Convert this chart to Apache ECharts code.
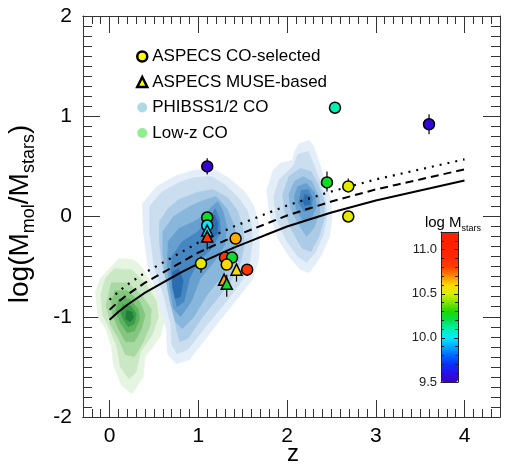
<!DOCTYPE html>
<html><head><meta charset="utf-8">
<script src="https://cdn.jsdelivr.net/npm/echarts@6/dist/echarts.min.js"></script>
<style>html,body{margin:0;padding:0;background:#fff}#c{width:508px;height:466px}</style>
</head><body><div id="c"></div>
<script>
const FONT = '"Liberation Sans", Arial, Helvetica, sans-serif';

// ---------- data ----------
// ASPECS CO-selected: [z, log(Mmol/Mstars), log Mstars]
const coSelected = [
  [1.10, 0.50, 9.52], [1.10, -0.01, 10.25], [1.10, -0.09, 10.0],
  [1.42, -0.22, 10.66], [1.03, -0.47, 10.53], [1.30, -0.41, 10.85],
  [1.38, -0.41, 10.25], [1.32, -0.48, 10.6], [1.55, -0.53, 10.85],
  [2.54, 1.085, 10.1], [3.60, 0.92, 9.55], [2.45, 0.34, 10.25],
  [2.69, 0.30, 10.53], [2.69, 0.00, 10.53]
];
// ASPECS MUSE-based: [z, log(Mmol/Mstars), log Mstars]
const museBased = [
  [1.10, -0.14, 10.0], [1.10, -0.20, 10.85], [1.43, -0.53, 10.6],
  [1.29, -0.63, 10.68], [1.32, -0.67, 10.25]
];
// vertical error bars: [z, low, high]
const errorBars = [
  [1.10, 0.42, 0.58], [1.10, -0.33, -0.05], [1.03, -0.56, -0.40],
  [1.32, -0.80, -0.58], [1.43, -0.65, -0.47], [2.45, 0.25, 0.45],
  [2.69, 0.26, 0.38], [3.60, 0.82, 1.02]
];
// scaling relations
const modelZ  = [0, 0.1, 0.2, 0.3, 0.4, 0.5, 0.6, 0.8, 1.0, 1.2, 1.4, 1.6, 1.8, 2.0, 2.25, 2.5, 2.75, 3.0, 3.25, 3.5, 3.75, 4.0];
const solidY  = [-1.03, -0.95, -0.88, -0.82, -0.76, -0.71, -0.66, -0.56, -0.47, -0.39, -0.31, -0.24, -0.17, -0.10, -0.03, 0.04, 0.10, 0.16, 0.21, 0.26, 0.31, 0.36];
const dashedY = [-0.93, -0.85, -0.78, -0.72, -0.66, -0.61, -0.56, -0.46, -0.36, -0.28, -0.20, -0.13, -0.06, 0.01, 0.08, 0.15, 0.21, 0.27, 0.32, 0.37, 0.42, 0.47];
const dottedY = [-0.83, -0.75, -0.68, -0.62, -0.56, -0.51, -0.46, -0.36, -0.26, -0.18, -0.10, -0.03, 0.04, 0.11, 0.18, 0.25, 0.31, 0.37, 0.42, 0.47, 0.52, 0.57];

// PHIBSS1/2 CO density contours: [level, polygon of [z, y]]
const phibssContours = [
  [0, [[0.37,0.13],[0.53,0.30],[0.75,0.41],[0.94,0.46],[1.16,0.48],[1.35,0.38],[1.52,0.25],[1.62,0.12],[1.68,-0.05],[1.69,-0.25],[1.68,-0.43],[1.61,-0.63],[1.43,-0.83],[1.16,-1.13],[0.90,-1.43],[0.75,-1.47],[0.65,-1.37],[0.64,-1.13],[0.53,-0.77],[0.43,-0.50],[0.38,-0.16]]],
  [0, [[2.14,0.73],[2.25,0.76],[2.30,0.70],[2.36,0.55],[2.43,0.36],[2.49,0.18],[2.51,0.00],[2.48,-0.20],[2.38,-0.40],[2.25,-0.56],[2.15,-0.53],[2.04,-0.42],[1.90,-0.23],[1.80,0.03],[1.77,0.26],[1.84,0.46],[1.92,0.53],[2.06,0.56],[2.09,0.66]]],
  [1, [[0.45,0.10],[0.58,0.24],[0.78,0.34],[0.95,0.39],[1.15,0.40],[1.31,0.31],[1.45,0.19],[1.55,0.06],[1.60,-0.08],[1.61,-0.27],[1.58,-0.45],[1.50,-0.63],[1.34,-0.82],[1.10,-1.08],[0.88,-1.33],[0.76,-1.37],[0.70,-1.28],[0.69,-1.08],[0.60,-0.76],[0.50,-0.50],[0.45,-0.16]]],
  [1, [[2.12,0.62],[2.24,0.65],[2.30,0.52],[2.37,0.36],[2.43,0.18],[2.45,0.00],[2.41,-0.18],[2.32,-0.36],[2.22,-0.46],[2.12,-0.40],[2.00,-0.25],[1.88,-0.03],[1.85,0.20],[1.91,0.37],[2.02,0.46],[2.08,0.52]]],
  [2, [[0.56,-0.05],[0.66,0.08],[0.78,0.17],[0.98,0.24],[1.16,0.27],[1.33,0.19],[1.44,0.06],[1.50,-0.10],[1.52,-0.28],[1.48,-0.45],[1.40,-0.60],[1.25,-0.78],[1.05,-1.00],[0.88,-1.22],[0.79,-1.25],[0.75,-1.12],[0.73,-0.95],[0.66,-0.72],[0.59,-0.48],[0.56,-0.25]]],
  [2, [[2.02,0.40],[2.15,0.48],[2.27,0.45],[2.35,0.32],[2.42,0.15],[2.42,-0.02],[2.36,-0.20],[2.27,-0.35],[2.17,-0.32],[2.06,-0.15],[1.97,0.05],[1.95,0.22]]],
  [3, [[0.60,-0.15],[0.72,0.00],[0.90,0.10],[1.05,0.16],[1.20,0.20],[1.32,0.08],[1.40,-0.08],[1.44,-0.25],[1.40,-0.42],[1.28,-0.58],[1.10,-0.78],[0.95,-1.00],[0.82,-1.12],[0.74,-1.05],[0.68,-0.85],[0.63,-0.60],[0.60,-0.38]]],
  [3, [[2.08,0.35],[2.18,0.40],[2.28,0.35],[2.36,0.20],[2.37,0.04],[2.30,-0.12],[2.22,-0.20],[2.13,-0.08],[2.04,0.08],[2.02,0.22]]],
  [4, [[0.66,-0.25],[0.78,-0.12],[0.95,-0.05],[1.08,0.02],[1.15,0.10],[1.22,0.15],[1.28,0.05],[1.32,-0.10],[1.30,-0.28],[1.18,-0.45],[1.02,-0.62],[0.92,-0.85],[0.80,-1.00],[0.72,-0.92],[0.68,-0.72],[0.65,-0.48]]],
  [4, [[2.12,0.30],[2.22,0.33],[2.31,0.24],[2.33,0.10],[2.27,-0.03],[2.18,-0.05],[2.10,0.08],[2.08,0.20]]],
  [5, [[0.70,-0.40],[0.82,-0.25],[0.98,-0.16],[1.10,-0.06],[1.19,0.08],[1.24,-0.02],[1.25,-0.16],[1.15,-0.32],[1.00,-0.45],[0.90,-0.62],[0.84,-0.85],[0.76,-0.90],[0.71,-0.72],[0.69,-0.55]]],
  [5, [[2.16,0.26],[2.24,0.27],[2.29,0.18],[2.27,0.08],[2.19,0.05],[2.13,0.14]]],
  [6, [[0.71,-0.55],[0.78,-0.52],[0.83,-0.64],[0.80,-0.80],[0.74,-0.82],[0.71,-0.70]]],
  [6, [[1.12,-0.10],[1.18,0.02],[1.22,-0.06],[1.21,-0.18],[1.14,-0.22]]],
  [6, [[2.20,0.22],[2.26,0.20],[2.26,0.12],[2.20,0.11],[2.18,0.16]]]
];
// Low-z CO density contours: [level, polygon of [z, y]]
const lowzContours = [
  [0, [[0.10,-0.42],[0.27,-0.43],[0.36,-0.50],[0.47,-0.66],[0.60,-0.83],[0.63,-1.00],[0.57,-1.20],[0.40,-1.40],[0.38,-1.60],[0.25,-1.77],[0.13,-1.68],[0.04,-1.47],[0.02,-1.30],[-0.04,-1.13],[-0.13,-1.00],[-0.16,-0.75],[-0.11,-0.62],[0.00,-0.52]]],
  [1, [[0.05,-0.52],[0.25,-0.53],[0.40,-0.66],[0.53,-0.85],[0.55,-1.00],[0.48,-1.18],[0.35,-1.35],[0.30,-1.55],[0.22,-1.62],[0.12,-1.50],[0.08,-1.30],[0.00,-1.12],[-0.08,-0.98],[-0.10,-0.78],[-0.05,-0.62]]],
  [2, [[0.02,-0.66],[0.20,-0.66],[0.36,-0.78],[0.47,-0.92],[0.46,-1.08],[0.38,-1.25],[0.28,-1.40],[0.18,-1.38],[0.10,-1.22],[0.01,-1.08],[-0.04,-0.88]]],
  [3, [[0.06,-0.74],[0.20,-0.74],[0.34,-0.85],[0.40,-0.98],[0.36,-1.12],[0.28,-1.25],[0.18,-1.25],[0.10,-1.12],[0.03,-0.98],[0.02,-0.85]]],
  [4, [[0.10,-0.82],[0.22,-0.82],[0.32,-0.92],[0.34,-1.02],[0.28,-1.14],[0.20,-1.16],[0.12,-1.06],[0.07,-0.95]]],
  [5, [[0.15,-0.88],[0.24,-0.89],[0.30,-0.97],[0.28,-1.07],[0.21,-1.10],[0.15,-1.02],[0.12,-0.94]]],
  [6, [[0.19,-0.94],[0.25,-0.95],[0.27,-1.01],[0.23,-1.05],[0.18,-1.02]]]
];
const blueShades  = ['#e4eef8','#cadef0','#abcbe6','#89b6db','#679fcf','#4787c1','#2b6db0'];
const greenShades = ['#e6f4e2','#cbe8c4','#a9d9a2','#84c67f','#5db35f','#3a9a48','#1f7f36'];
// colour scale for log Mstars 9.5 .. 11.2
const massColors = ['#3c00c8','#2a10e6','#0a30ff','#0066ff','#00a8ff','#00eaff','#00f0b0','#00e050','#20d800',
                    '#80e400','#d8f000','#ffd800','#ff8c00','#ff4000','#ff2a00','#ff2400','#ff2000','#ff2000'];
const xMajorTicks = [0, 1, 2, 3, 4];
const xMinorTicks = [];
for (let i = -2; i <= 43; i++) if (i % 10 !== 0) xMinorTicks.push(i / 10);

// ---------- chart ----------
function contourSeries(name, contours, shades) {
  return {
    type: 'custom', name: name, xAxisIndex: 0, yAxisIndex: 0, clip: true, silent: true, z: 1,
    data: contours.map((c, i) => [c[1][0][0], c[1][0][1], i]),
    renderItem: function (params, api) {
      const c = contours[params.dataIndex];
      return {
        type: 'polygon',
        shape: { points: c[1].map(p => api.coord(p)) },
        style: { fill: shades[c[0]], stroke: shades[c[0]], lineWidth: 0.5 }
      };
    }
  };
}
const ax = '#333';
function xAx(pos, ticks, len, labels) {
  return {
    type: 'value', gridIndex: 0, position: pos, min: -0.3, max: 4.4,
    axisLine: { show: true, onZero: false, lineStyle: { color: ax, width: 1 } },
    axisTick: { show: true, inside: true, length: len, customValues: ticks, lineStyle: { color: ax, width: 1 } },
    axisLabel: labels ? { show: true, customValues: ticks, fontSize: 21, color: '#000', fontFamily: FONT, margin: 9 } : { show: false },
    splitLine: { show: false }
  };
}
function yAx(pos, labels) {
  return {
    type: 'value', gridIndex: 0, position: pos, min: -2, max: 2, interval: 1,
    axisLine: { show: true, onZero: false, lineStyle: { color: ax, width: 1 } },
    axisTick: { show: true, inside: true, length: 17, lineStyle: { color: ax, width: 1 } },
    minorTick: { show: true, splitNumber: 10, length: 9, lineStyle: { color: ax, width: 1 } },
    axisLabel: labels ? { show: true, fontSize: 21, color: '#000', fontFamily: FONT, margin: 11 } : { show: false },
    splitLine: { show: false }, minorSplitLine: { show: false }
  };
}
function cbY(pos, labels) {
  return {
    type: 'value', gridIndex: 1, position: pos, min: 9.5, max: 11.2, interval: 0.5, z: 10,
    axisLine: { show: true, onZero: false, lineStyle: { color: '#222', width: 1 } },
    axisTick: { show: true, inside: true, length: 4, lineStyle: { color: '#222' } },
    minorTick: { show: true, splitNumber: 5, length: 3, lineStyle: { color: '#222' } },
    axisLabel: labels ? { show: true, fontSize: 13, color: '#222', fontFamily: FONT, margin: 4,
      showMaxLabel: false, formatter: v => (Math.abs(v - 11.2) < 1e-6 ? '' : v.toFixed(1)) } : { show: false },
    splitLine: { show: false }, minorSplitLine: { show: false }
  };
}
function cbX(pos) {
  return {
    type: 'value', gridIndex: 1, position: pos, min: 0, max: 1, z: 10,
    axisLine: { show: true, onZero: false, lineStyle: { color: '#222', width: 1 } },
    axisTick: { show: false }, axisLabel: { show: false }, splitLine: { show: false }
  };
}
function modelLine(name, ys, type, width) {
  return { type: 'line', name: name, xAxisIndex: 0, yAxisIndex: 0, z: 3, silent: true, showSymbol: false,
    smooth: false, data: modelZ.map((z, i) => [z, ys[i]]),
    lineStyle: { color: '#000', width: width, type: type, cap: 'butt' } };
}

const chart = echarts.init(document.getElementById('c'), null, { renderer: 'canvas' });
chart.setOption({
  backgroundColor: '#fff',
  animation: false,
  textStyle: { fontFamily: FONT },
  grid: [
    { left: 83, right: 8, top: 16, bottom: 49, outerBoundsMode: 'none' },
    { left: 441, top: 232, width: 17, height: 150, outerBoundsMode: 'none' }
  ],
  xAxis: [
    xAx('bottom', xMajorTicks, 17, true),
    xAx('top', xMajorTicks, 17, false),
    xAx('bottom', xMinorTicks, 8, false),
    xAx('top', xMinorTicks, 8, false),
    cbX('bottom'), cbX('top')
  ],
  yAxis: [ yAx('left', true), yAx('right', false), cbY('left', true), cbY('right', false) ],
  visualMap: {
    type: 'continuous', min: 9.5, max: 11.2, dimension: 2, seriesIndex: [6, 7],
    inRange: { color: massColors }, calculable: false, show: true, orient: 'vertical',
    left: 441, top: 232, itemWidth: 17, itemHeight: 150, padding: 0, hoverLink: false
  },
  legend: {
    show: true, orient: 'vertical', left: 131, top: 43, itemWidth: 10, itemHeight: 10,
    itemGap: 8.5, itemTextGap: 10, selectedMode: false,
    textStyle: { fontSize: 17, color: '#000', fontFamily: FONT, lineHeight: 17 },
    data: [
      { name: 'ASPECS CO-selected', icon: 'circle', itemStyle: { color: '#ffff00', borderColor: '#000', borderWidth: 2.5 } },
      { name: 'ASPECS MUSE-based', icon: 'triangle', itemStyle: { color: '#ffff00', borderColor: '#000', borderWidth: 2.5 } },
      { name: 'PHIBSS1/2 CO', icon: 'circle', itemStyle: { color: '#add8e6', borderWidth: 0 } },
      { name: 'Low-z CO', icon: 'circle', itemStyle: { color: '#90ee90', borderWidth: 0 } }
    ]
  },
  graphic: [
    { type: 'text', x: 22, y: 214, rotation: Math.PI / 2, z: 100,
      style: {
        text: '{a|log(M}{s|mol}{a|/M}{s|stars}{a|)}',
        align: 'center', verticalAlign: 'middle',
        rich: {
          a: { fontSize: 28, fontFamily: FONT, fill: '#000', color: '#000', padding: [0, 0, 4, 0] },
          s: { fontSize: 18, fontFamily: FONT, fill: '#000', color: '#000', verticalAlign: 'bottom' }
        }
      } },
    { type: 'text', x: 293, y: 454, z: 100,
      style: { text: 'z', fontSize: 24, fontFamily: FONT, fill: '#000', align: 'center', verticalAlign: 'middle' } },
    { type: 'text', x: 453, y: 224, z: 100,
      style: {
        text: '{a|log M}{s|stars}',
        align: 'center', verticalAlign: 'middle',
        rich: {
          a: { fontSize: 15, fontFamily: FONT, fill: '#000', color: '#000', padding: [0, 0, 3, 0] },
          s: { fontSize: 9, fontFamily: FONT, fill: '#000', color: '#000', verticalAlign: 'bottom' }
        }
      } }
  ],
  series: [
    contourSeries('Low-z CO', lowzContours, greenShades),
    contourSeries('PHIBSS1/2 CO', phibssContours, blueShades),
    modelLine('solid', solidY, 'solid', 2),
    modelLine('dashed', dashedY, [8, 5], 2),
    modelLine('dotted', dottedY, [2, 6], 2.2),
    { type: 'custom', name: 'err', xAxisIndex: 0, yAxisIndex: 0, z: 4, silent: true,
      encode: { x: 0, y: [1, 2] }, data: errorBars,
      renderItem: function (params, api) {
        const p1 = api.coord([api.value(0), api.value(1)]);
        const p2 = api.coord([api.value(0), api.value(2)]);
        return { type: 'line', shape: { x1: p1[0], y1: p1[1], x2: p2[0], y2: p2[1] },
                 style: { stroke: '#000', lineWidth: 1.2 } };
      } },
    { type: 'scatter', name: 'ASPECS CO-selected', xAxisIndex: 0, yAxisIndex: 0, z: 5,
      symbol: 'circle', symbolSize: 11, data: coSelected,
      itemStyle: { borderColor: '#000', borderWidth: 1.5, opacity: 1 } },
    { type: 'scatter', name: 'ASPECS MUSE-based', xAxisIndex: 0, yAxisIndex: 0, z: 6,
      symbol: 'triangle', symbolSize: 11, data: museBased,
      itemStyle: { borderColor: '#000', borderWidth: 1.5, opacity: 1 } }
  ]
});
</script></body></html>
